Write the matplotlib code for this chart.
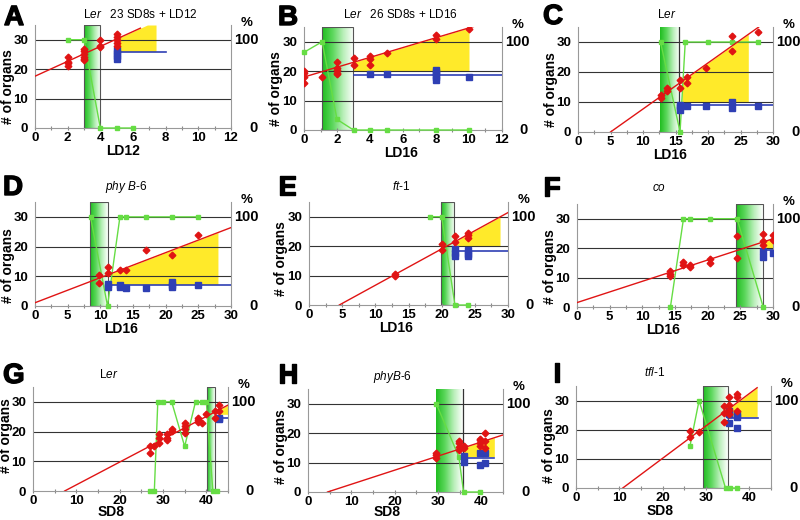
import numpy as np
import matplotlib
matplotlib.use('Agg')
import matplotlib.pyplot as plt
import matplotlib.patheffects as pe
from matplotlib.colors import LinearSegmentedColormap
from matplotlib.patches import Rectangle
from matplotlib.ticker import MultipleLocator
from matplotlib.transforms import blended_transform_factory, offset_copy

plt.rcParams['font.family'] = ['Liberation Sans', 'DejaVu Sans']
plt.rcParams['mathtext.fontset'] = 'custom'
plt.rcParams['mathtext.rm'] = 'Liberation Sans'
plt.rcParams['mathtext.it'] = 'Liberation Sans:italic'
plt.rcParams['mathtext.bf'] = 'Liberation Sans:bold'

# ---------------- data ----------------
# Panel A
A_red_x = [2, 2, 2, 2, 3, 3, 3, 3, 3, 3, 4, 4, 4, 5, 5, 5, 5, 5]
A_red_y = [24, 22.5, 22, 21, 27, 26, 25, 24, 23.5, 23, 30, 28, 27.5, 32, 31, 30, 29, 28]
A_fit = [17.6, 2.53]          # intercept, slope
A_fit_range = [0, 6.45]
A_blue_x = [5, 5, 5, 5]
A_blue_y = [26.5, 25.5, 24.5, 23.5]
A_blue_level = 25.8
A_blue_range = [5, 8]
A_yellow = [4.93, 7.41, 26.0]  # x0, x1, bottom
A_pct_x = [2, 3, 4, 5, 6]
A_pct = [100, 100, 0, 0, 0]
A_rect = [2.97, 3.97]

# Panel B
B_red_x = [0, 0, 0, 0, 1.1, 2, 2, 2, 2, 2, 3, 3, 4, 4, 4, 5, 8, 8, 10]
B_red_y = [20, 19.5, 18, 16, 18, 23, 21, 20.5, 19.5, 19, 24.3, 22.2, 25.3, 24.2, 22.2, 26.2, 32.3, 31, 34.2]
B_fit = [18.0, 1.67]
B_fit_range = [0, 10.4]
B_blue_x = [4, 5, 8, 8, 8, 8, 8, 10]
B_blue_y = [19, 19, 20.5, 19.6, 18.8, 18, 17.1, 18]
B_blue_level = 18.8
B_blue_range = [3, 12]
B_yellow = [3.0, 10.0, 20.0]
B_pct_x = [0, 1.1, 2, 3, 4, 5, 8, 10]
B_pct = [88, 100, 12, 0, 0, 0, 0, 0]
B_rect = [1.1, 3.0]

# Panel C
C_red_x = [12.7, 12.7, 13.7, 13.7, 15.7, 15.7, 16.7, 16.7, 19.7, 23.7, 23.7, 27.7]
C_red_y = [12.3, 11.2, 14.8, 13.7, 17.5, 14.6, 18.2, 16.4, 21.4, 32.1, 27.1, 33.2]
C_fit = [-7.68, 1.535]
C_fit_range = [5, 27.8]
C_blue_x = [15.7, 15.7, 15.7, 16.7, 19.7, 23.7, 23.7, 27.7]
C_blue_y = [9, 8.2, 7.5, 8.6, 8.6, 10, 7.9, 8.6]
C_blue_level = 8.9
C_blue_range = [15.7, 30]
C_yellow = [16.0, 26.2, 10.0]
C_pct_x = [12.7, 15.7, 16.5, 20, 23.7, 27.7]
C_pct = [100, 0, 100, 100, 100, 100]
C_rect = [12.6, 15.6]

# Panel D
D_red_x = [9.8, 9.8, 11.1, 11.1, 13, 14, 17, 21, 25]
D_red_y = [10.5, 7.9, 13, 11, 12.2, 12.2, 19, 17.2, 24]
D_fit = [1.1, 0.843]
D_fit_range = [0, 30]
D_blue_x = [11.1, 11.1, 13, 13, 14, 17, 21, 21, 21, 25]
D_blue_y = [7.5, 6.4, 7.2, 6.4, 6.2, 6.2, 8.2, 7.1, 6.4, 7.1]
D_blue_level = 7.0
D_blue_range = [11.1, 30]
D_yellow = [11.6, 28.0, 7.2]
D_pct_x = [8.5, 11.1, 13, 14, 17, 21, 25]
D_pct = [100, 0, 100, 100, 100, 100, 100]
D_rect = [8.45, 11.2]

# Panel E
E_red_x = [13, 13, 20, 20, 22, 22, 24, 24, 24]
E_red_y = [10.7, 9.8, 20.7, 18.6, 23.5, 21.5, 24.5, 23.7, 22.6]
E_fit = [-5.64, 1.235]
E_fit_range = [4.57, 30]
E_blue_x = [22, 22, 22, 24, 24, 24]
E_blue_y = [19, 17.8, 16.8, 18.6, 17.5, 16.7]
E_blue_level = 18.2
E_blue_range = [22, 30]
E_yellow = [22.0, 28.8, 20.0]
E_pct_x = [18.3, 20, 22, 24]
E_pct = [100, 100, 0, 0]
E_rect = [19.9, 21.9]

# Panel F
F_red_x = [14.3, 14.3, 14.3, 16.3, 16.3, 17.3, 17.3, 20.3, 20.3, 24.5, 24.5, 28.5, 28.5, 28.5, 30, 30]
F_red_y = [12.2, 11.3, 10.4, 15.2, 14.2, 14.4, 13.6, 16.2, 14.9, 24, 16.8, 24.9, 22.4, 21, 24.3, 22.6]
F_fit = [1.5, 0.723]
F_fit_range = [0, 30]
F_blue_x = [28.5, 28.5, 30]
F_blue_y = [18.9, 17, 18.5]
F_blue_level = 19.3
F_blue_range = [28.5, 30]
F_yellow = [28.5, 30.0, 19.8]
F_pct_x = [14.3, 16.3, 17.3, 20.3, 24.5, 28.5]
F_pct = [0, 100, 100, 100, 100, 0]
F_rect = [24.4, 28.4]

# Panel G
G_red_x = [27, 27, 28, 29, 29, 29, 31, 31, 31, 32, 32, 35, 35, 35, 35, 38, 38, 38, 39, 40, 42, 42, 43, 43]
G_red_y = [15.1, 12.9, 15.1, 19.1, 18, 16.2, 19.1, 18, 17.1, 21, 20.3, 23, 21.8, 20.7, 19.6,
           24.7, 23.9, 23.3, 23, 25.9, 27, 24.7, 28.8, 27]
G_fit = [-5.6, 0.767]
G_fit_range = [7.3, 45]
G_blue_x = [43, 43]
G_blue_y = [24.7, 24.1]
G_blue_level = 24.4
G_blue_range = [43, 45]
G_yellow = [43.0, 45.0, 25.8]
G_pct_x = [27, 28, 28.8, 30, 32, 35, 37.5, 39, 40, 41.5, 42.5]
G_pct = [0, 0, 100, 100, 100, 50, 100, 100, 100, 0, 0]
G_rect = [40.1, 41.9]

# Panel H
H_red_x = [29.6, 29.6, 29.6, 34.8, 34.8, 34.8, 34.8, 35.9, 35.9, 39.7, 39.7, 39.7, 39.7, 40.9, 40.9, 40.9]
H_red_y = [13.4, 12.5, 11.4, 17.4, 16.5, 15.3, 14.2, 15.6, 14.8, 18.1, 17.6, 16.7, 15.6, 20, 17.4, 15.1]
H_fit = [-2.16, 0.479]
H_fit_range = [4.5, 45]
H_blue_x = [35.9, 35.9, 39.7, 39.7, 40.9, 40.9]
H_blue_y = [12.3, 10.3, 13.1, 9.2, 13.1, 9.8]
H_blue_level = 11.4
H_blue_range = [36, 43]
H_yellow = [36.0, 43.0, 12.0]
H_pct_x = [29.6, 34.8, 35.9, 39.7]
H_pct = [100, 40, 0, 0]
H_rect = [29.6, 35.8]

# Panel I
I_red_x = [26.3, 26.3, 28.4, 34.2, 34.2, 34.2, 35.2, 35.2, 35.2, 35.2, 37.1, 37.1, 37.1]
I_red_y = [19.5, 17.4, 19.3, 28.2, 25.6, 22.5, 31.3, 28.4, 26.7, 25.3, 32.4, 31.3, 26.5]
I_fit = [-11.99, 1.11]
I_fit_range = [10.8, 41.8]
I_blue_x = [35.2, 35.2, 35.2, 37.1, 37.1, 37.1]
I_blue_y = [26.5, 25.3, 22.4, 25.3, 24.2, 20.5]
I_blue_level = 23.9
I_blue_range = [35, 42]
I_yellow = [35.5, 41.8, 24.4]
I_pct_x = [26.3, 28.4, 34.5, 35.5, 37.1]
I_pct = [48, 100, 0, 0, 0]
I_rect = [29.3, 35.0]

letters = ['A', 'B', 'C', 'D', 'E', 'F', 'G', 'H', 'I']
titles = [r'L$\mathit{er}$   23 SD8s + LD12', r'L$\mathit{er}$   26 SD8s + LD16', r'L$\mathit{er}$',
          r'$\mathit{phy\ B}$-$\mathit{6}$', r'$\mathit{ft}$-$\mathit{1}$', r'$\mathit{co}$',
          r'L$\mathit{er}$', r'$\mathit{phyB}$-$\mathit{6}$', r'$\mathit{tfl}$-$\mathit{1}$']
xlabels = ['LD12', 'LD16', 'LD16', 'LD16', 'LD16', 'LD16', 'SD8', 'SD8', 'SD8']
xmaxes = [12, 12, 30, 30, 30, 30, 45, 45, 45]
xsteps = [2, 2, 5, 5, 5, 5, 10, 10, 10]

# ---------------- layout (pixels) ----------------
W, Hh = 800, 520
boxes = [(35, 231, 25, 128), (304, 502, 27, 130), (578, 773, 27, 132),
         (35, 231, 202, 306), (309, 508, 202, 305), (577, 773, 204, 307),
         (33, 228, 387, 491), (308, 503, 389, 492), (576, 771, 386, 488)]
letter_pos = [(4, 25), (278, 25), (543, 24), (3, 195), (278, 195), (543, 196),
              (3, 383), (278, 383), (553, 382)]
title_pos = [(140, 14), (400, 15), (667, 15), (126, 187), (401, 187), (659, 188),
             (109, 375), (393, 377), (655, 373)]
xlab_x = [0.45, 0.49, 0.47, 0.44, 0.44, 0.44, 0.40, 0.405, 0.43]
ylab_y = [0.40, 0.40, 0.40, 0.39, 0.45, 0.39, 0.53, 0.44, 0.42]
outline_full = [True, True, False, True, True, True, True, False, True]

g = globals()
panels = []
for L in letters:
    panels.append(dict(
        red_x=g[L + '_red_x'], red_y=g[L + '_red_y'], fit=g[L + '_fit'], fit_range=g[L + '_fit_range'],
        blue_x=g[L + '_blue_x'], blue_y=g[L + '_blue_y'], blue_level=g[L + '_blue_level'],
        blue_range=g[L + '_blue_range'], yellow=g[L + '_yellow'], pct_x=g[L + '_pct_x'],
        pct=g[L + '_pct'], rect=g[L + '_rect']))

RED = '#e01414'
BLUE = '#2f3fb4'
GREEN = '#66dd44'
YELLOW = '#ffea2a'
cmap = LinearSegmentedColormap.from_list('gw', ['#1fbd1f', '#5cd75c', '#b9efb9', '#ffffff'])

fig = plt.figure(figsize=(8, 5.2), dpi=100)
fig.patch.set_facecolor('white')

for i, p in enumerate(panels):
    l, r, t, b = boxes[i]
    ax = fig.add_axes([l / W, 1 - b / Hh, (r - l) / W, (b - t) / Hh])
    xmax = xmaxes[i]
    # green gradient rectangle
    x0, x1 = p['rect']
    grad = np.linspace(0, 1, 256)[None, :]
    ax.imshow(grad, extent=[x0, x1, 0, 35], aspect='auto', cmap=cmap, zorder=1,
              origin='lower', interpolation='bilinear')
    if outline_full[i]:
        ax.add_patch(Rectangle((x0, 0), x1 - x0, 35, fill=False, ec='#555555', lw=0.8, zorder=2))
    else:
        ax.plot([x1, x1], [0, 35], color='#333333', lw=0.9, zorder=2)
    # yellow area
    yx0, yx1, ybot = p['yellow']
    xf = np.linspace(yx0, yx1, 60)
    top = np.minimum(p['fit'][0] + p['fit'][1] * xf, 35)
    ax.fill_between(xf, ybot, top, color=YELLOW, lw=0, zorder=1.5)
    # gridlines
    for gy in (10, 20, 30):
        ax.axhline(gy, color='#333333', lw=0.8, zorder=2.5)
    # green percent line
    ax.plot(p['pct_x'], np.array(p['pct']) * 0.3, '-s', color=GREEN, ms=2.5, lw=1.0,
            zorder=3, clip_on=False)
    # blue
    ax.plot(p['blue_range'], [p['blue_level']] * 2, color=BLUE, lw=1.2, zorder=3.5)
    ax.plot(p['blue_x'], p['blue_y'], 's', color=BLUE, ms=3.8, zorder=4)
    # red
    fx = np.array(p['fit_range'])
    ax.plot(fx, p['fit'][0] + p['fit'][1] * fx, color=RED, lw=1.0, zorder=4.5)
    ax.plot(p['red_x'], p['red_y'], 'D', color=RED, ms=3.4, zorder=5)

    ax.set_xlim(0, xmax)
    ax.set_ylim(0, 35)
    ax.set_xticks(np.arange(0, xmax + 0.01, xsteps[i]))
    ax.xaxis.set_minor_locator(MultipleLocator(xsteps[i] / 2))
    ax.set_yticks([0, 10, 20, 30])
    ax.tick_params(axis='x', which='both', direction='inout', color='#888888', length=3,
                   width=0.8, pad=1.5, labelsize=9.5)
    ax.tick_params(axis='x', which='minor', length=2.5)
    ax.tick_params(axis='y', left=False, pad=1.5, labelsize=9.5)
    for lab in ax.get_xticklabels() + ax.get_yticklabels():
        lab.set_fontweight('bold')
    for s in ('left', 'right', 'bottom'):
        ax.spines[s].set_color('#999999')
        ax.spines[s].set_linewidth(0.8)
    ax.spines['top'].set_visible(False)

    ax.set_xlabel(xlabels[i], fontsize=10, fontweight='bold')
    # label centre in pixels below the axes, kept inside the figure
    lab_px = min(b + 23, 511.5)
    ax.xaxis.set_label_coords(xlab_x[i], -(lab_px - b) / (b - t))
    ax.xaxis.label.set_va('center')
    ax.set_ylabel('# of organs', fontsize=10, fontweight='bold')
    ax.yaxis.set_label_coords(-0.14, ylab_y[i])
    ax.yaxis.label.set_va('center')

    tr = blended_transform_factory(ax.transAxes, ax.transData)
    ax.text(1, 30, '100', transform=offset_copy(tr, fig=fig, x=3, y=0, units='dots'),
            ha='left', va='center', fontsize=10.5, fontweight='bold')
    ax.text(1, 0, '0', transform=offset_copy(tr, fig=fig, x=22, y=0, units='dots'),
            ha='center', va='center', fontsize=10.5, fontweight='bold')
    ax.text(1, 35, '%', transform=offset_copy(tr, fig=fig, x=16, y=2, units='dots'),
            ha='center', va='center', fontsize=9.5, fontweight='bold')

    lx, ly = letter_pos[i]
    fig.text(lx / W, 1 - ly / Hh, letters[i], fontsize=20, fontweight='bold',
             ha='left', va='baseline',
             path_effects=[pe.withStroke(linewidth=1.0, foreground='black')])
    tx, ty = title_pos[i]
    fig.text(tx / W, 1 - ty / Hh, titles[i], fontsize=8.5, ha='center', va='center')

fig.savefig('out.png', dpi=100, facecolor='white')
